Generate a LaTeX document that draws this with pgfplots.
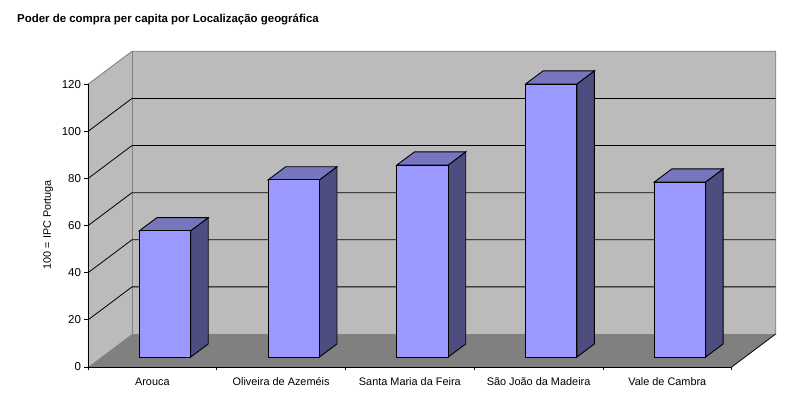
\documentclass[border=0pt]{standalone}
\usepackage{fontspec}
\setmainfont{Liberation Sans}
\usepackage{pgfplots}
\pgfplotsset{compat=1.18}
\definecolor{Wall}{RGB}{187,187,187}
\definecolor{Edge}{RGB}{128,128,128}
\definecolor{Floor}{RGB}{128,128,128}
\definecolor{BarFront}{RGB}{153,153,255}
\definecolor{BarTop}{RGB}{118,118,190}
\definecolor{BarSide}{RGB}{77,77,128}
% depth of the box and of the bars, in axis units
\def\boxdx{0.342}
\def\boxdy{14}
\def\bardx{0.137}
\def\bardy{5.6}
\def\barbase{4.2}
\def\barw{0.3985}
\newcommand{\gridat}[1]{%
  \pgfmathsetmacro{\gy}{#1+\boxdy}%
  \addplot[black,line width=0.8pt] coordinates {(0,#1) (\boxdx,\gy) (5.342,\gy)};
}
\newcommand{\cube}[2]{%
  \pgfmathsetmacro{\xa}{#1+0.0985+0.3}%
  \pgfmathsetmacro{\xb}{\xa+\barw}%
  \pgfmathsetmacro{\xc}{\xb+\bardx}%
  \pgfmathsetmacro{\xd}{\xa+\bardx}%
  \pgfmathsetmacro{\yt}{#2+\barbase}%
  \pgfmathsetmacro{\ytt}{\yt+\bardy}%
  \pgfmathsetmacro{\ybb}{\barbase+\bardy}%
  \addplot[draw=black,fill=BarSide,line width=0.9pt] coordinates {(\xb,\barbase) (\xc,\ybb) (\xc,\ytt) (\xb,\yt)} --cycle;
  \addplot[draw=black,fill=BarTop,line width=0.9pt] coordinates {(\xa,\yt) (\xd,\ytt) (\xc,\ytt) (\xb,\yt)} --cycle;
  \addplot[draw=black,fill=BarFront,line width=0.9pt] coordinates {(\xa,\barbase) (\xb,\barbase) (\xb,\yt) (\xa,\yt)} --cycle;
}
\begin{document}
\begin{tikzpicture}[x=1pt,y=1pt]
\useasboundingbox (0,0) rectangle (811,406);
\node[anchor=base west,font=\bfseries\fontsize{11.45}{12}\selectfont,inner sep=0pt] at (17,383) {Poder de compra per capita por Localização geográfica};
\begin{axis}[
    at={(88pt,39pt)}, anchor=south west,
    scale only axis, width=687.7pt, height=315.7pt,
    xmin=0, xmax=5.342, ymin=0, ymax=134,
    clip=false,
    axis line style={draw=none},
    tick align=outside, xtick pos=bottom, ytick pos=left,
    ytick={0,20,...,120},
    xtick={0.5,1.5,2.5,3.5,4.5},
    minor xtick={0,1,2,3,4,5},
    xticklabels={Arouca,Oliveira de Azeméis,Santa Maria da Feira,São João da Madeira,Vale de Cambra},
    major tick length=3.5pt, minor tick length=3.5pt,
    tick style={black,line width=0.8pt},
    major x tick style={draw=none},
    tick label style={font=\fontsize{10.9}{12}\selectfont},
    y tick label style={font=\fontsize{11.5}{12}\selectfont,yshift=-1.5pt},
    /pgf/number format/assume math mode=true,
    typeset ticklabels with strut,
    xticklabel style={yshift=-3pt},
    ylabel={100 = IPC Portuga},
    ylabel style={font=\fontsize{10.8}{12}\selectfont, at={(axis description cs:-0.058,0.451)}, anchor=center, rotate=0},
]
% left wall, back wall, floor
\addplot[fill=Wall,draw=none] coordinates {(0,0) (0.342,14) (0.342,134) (0,120)} --cycle;
\addplot[fill=Wall,draw=none] coordinates {(0.342,14) (5.342,14) (5.342,134) (0.342,134)} --cycle;
\addplot[fill=Floor,draw=none] coordinates {(0,0) (5,0) (5.342,14) (0.342,14)} --cycle;
\addplot[Edge,line width=0.9pt] coordinates {(0,120) (0.342,134) (5.342,134) (5.342,14)};
\addplot[Edge,line width=0.9pt] coordinates {(0.342,134) (0.342,14)};
\gridat{20}
\gridat{40}
\gridat{60}
\gridat{80}
\gridat{100}
\addplot[black,line width=0.8pt] coordinates {(5,0) (5.342,14)};
\cube{0}{53.6}
\cube{1}{75.2}
\cube{2}{81.5}
\cube{3}{115.9}
\cube{4}{74.3}
\addplot[black,line width=0.9pt] coordinates {(0,120) (0,0) (5,0)};
\end{axis}
\end{tikzpicture}
\end{document}
